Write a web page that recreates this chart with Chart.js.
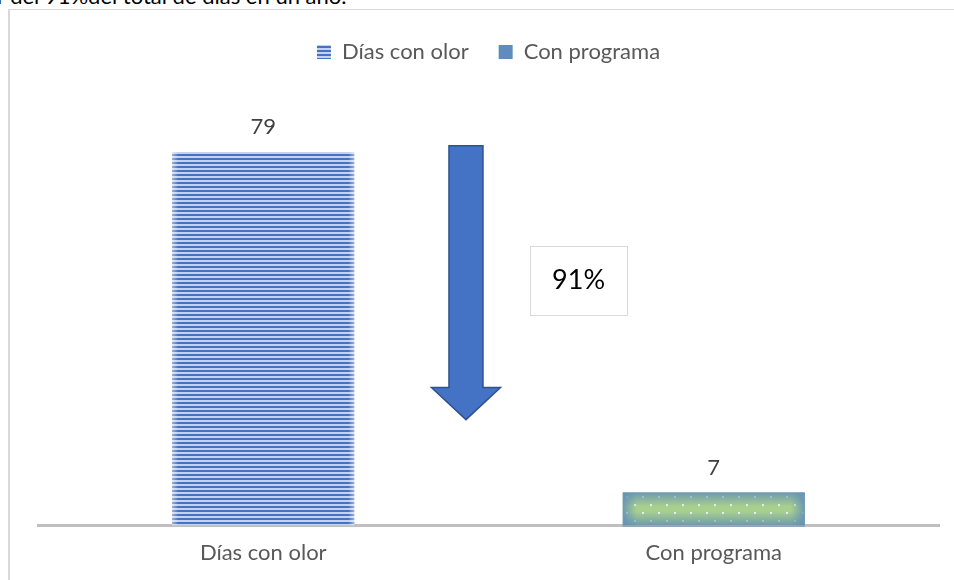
<!DOCTYPE html>
<html>
<head>
<meta charset="utf-8">
<script src="https://cdn.jsdelivr.net/npm/chart.js@4"></script>
<style>
  html, body { margin: 0; padding: 0; background: #fff; width: 954px; height: 580px; overflow: hidden; position: relative; font-family: Lato, sans-serif; }
  #lead { position: absolute; left: -3px; top: -15px; font-size: 22px; line-height: 22px; color: #000; white-space: nowrap; }
  #frame { position: absolute; left: 8px; top: 9px; right: 0; bottom: 0; border-left: 2px solid #d9d9d9; border-top: 1.5px solid #d9d9d9; }
  #wrap { position: absolute; left: 10px; top: 10px; width: 944px; height: 570px; }
</style>
</head>
<body>
<div id="lead">r del 91%del total de días en un año.</div>
<div id="frame"></div>
<div id="wrap"><canvas id="c" width="944" height="570"></canvas></div>
<script>
// Categories and series
const categories = ['Días con olor', 'Con programa'];
const seriesNames = ['Días con olor', 'Con programa'];
const diasConOlor = [79, null];
const conPrograma = [null, 7];
const reductionLabel = '91%';

// Reduction arrow and its caption, placed in axis units
const arrowSpan = { from: 80.3, headAt: 29.2, to: 22.4, at: 0.45 };
const captionAt = { value: 51.8, at: 0.70 };

const FONT = 'Lato, sans-serif';
const canvas = document.getElementById('c');
const ctx = canvas.getContext('2d');

function stripePattern() {
  const t = document.createElement('canvas');
  t.width = 4; t.height = 4;
  const g = t.getContext('2d');
  g.fillStyle = '#c4d2ed';
  g.fillRect(0, 0, 4, 4);
  g.fillStyle = '#4472c4';
  g.fillRect(0, 0, 4, 2);
  return ctx.createPattern(t, 'repeat');
}

function dotPattern() {
  const t = document.createElement('canvas');
  t.width = 16; t.height = 16;
  const g = t.getContext('2d');
  g.fillStyle = '#a8cf8e';
  g.fillRect(0, 0, 16, 16);
  g.fillStyle = '#f2f7fb';
  g.fillRect(8, 6, 2, 2);
  g.fillRect(0, 14, 2, 2);
  return ctx.createPattern(t, 'repeat');
}

const stripes = stripePattern();
const dots = dotPattern();

// Soft edge shading on each bar, and the blue outline on the dotted bar
const barFinish = {
  id: 'barFinish',
  afterDatasetDraw(chart, args) {
    const meta = args.meta;
    const c = chart.ctx;
    meta.data.forEach((el, i) => {
      const v = chart.data.datasets[args.index].data[i];
      if (v === null || v === undefined) return;
      const p = el.getProps(['x', 'y', 'width', 'base'], true);
      const L = p.x - p.width / 2, R = p.x + p.width / 2, T = p.y, B = p.base;
      c.save();
      c.beginPath(); c.rect(L, T, R - L, B - T); c.clip();
      if (args.index === 1) {
        const col = 'rgba(98,144,182,';
        const d = 14;
        const a0 = '0.85)';
        let g = c.createLinearGradient(L, 0, L + d, 0);
        g.addColorStop(0, col + a0); g.addColorStop(1, col + '0)');
        c.fillStyle = g; c.fillRect(L, T, d, B - T);
        g = c.createLinearGradient(R, 0, R - d, 0);
        g.addColorStop(0, col + a0); g.addColorStop(1, col + '0)');
        c.fillStyle = g; c.fillRect(R - d, T, d, B - T);
        g = c.createLinearGradient(0, T, 0, T + d);
        g.addColorStop(0, col + a0); g.addColorStop(1, col + '0)');
        c.fillStyle = g; c.fillRect(L, T, R - L, d);
        g = c.createLinearGradient(0, B, 0, B - d);
        g.addColorStop(0, col + a0); g.addColorStop(1, col + '0)');
        c.fillStyle = g; c.fillRect(L, B - d, R - L, d);
        c.restore();
        c.save();
        c.strokeStyle = '#7097ba';
        c.lineWidth = 1;
        c.strokeRect(L + 0.5, T + 0.5, R - L - 1, B - T);
      } else {
        const d = 6;
        let g = c.createLinearGradient(L, 0, L + d, 0);
        g.addColorStop(0, 'rgba(255,255,255,0.45)'); g.addColorStop(1, 'rgba(255,255,255,0)');
        c.fillStyle = g; c.fillRect(L, T, d, B - T);
        g = c.createLinearGradient(R, 0, R - d, 0);
        g.addColorStop(0, 'rgba(255,255,255,0.45)'); g.addColorStop(1, 'rgba(255,255,255,0)');
        c.fillStyle = g; c.fillRect(R - d, T, d, B - T);
      }
      c.restore();
    });
  }
};

// Value labels above the bars
const valueLabels = {
  id: 'valueLabels',
  afterDatasetsDraw(chart) {
    const c = chart.ctx;
    c.save();
    c.font = '22px ' + FONT;
    c.fillStyle = '#404040';
    c.textAlign = 'center';
    c.textBaseline = 'middle';
    chart.data.datasets.forEach((ds, di) => {
      chart.getDatasetMeta(di).data.forEach((el, i) => {
        const v = ds.data[i];
        if (v === null || v === undefined) return;
        c.fillText(String(v), el.x, el.y - 25);
      });
    });
    c.restore();
  }
};

// Downward arrow with the percentage caption
const reductionArrow = {
  id: 'reductionArrow',
  afterDraw(chart) {
    const xs = chart.scales.x, ys = chart.scales.y, c = chart.ctx;
    const cx = xs.getPixelForValue(arrowSpan.at);
    const y0 = ys.getPixelForValue(arrowSpan.from);
    const yh = ys.getPixelForValue(arrowSpan.headAt);
    const y1 = ys.getPixelForValue(arrowSpan.to);
    const sw = 17, hw = 34.5;
    c.save();
    c.beginPath();
    c.moveTo(cx - sw, y0);
    c.lineTo(cx + sw, y0);
    c.lineTo(cx + sw, yh);
    c.lineTo(cx + hw, yh);
    c.lineTo(cx, y1);
    c.lineTo(cx - hw, yh);
    c.lineTo(cx - sw, yh);
    c.closePath();
    c.fillStyle = '#4472c4';
    c.fill();
    c.lineWidth = 1.5;
    c.strokeStyle = '#2f528f';
    c.stroke();

    const bx = xs.getPixelForValue(captionAt.at);
    const by = ys.getPixelForValue(captionAt.value);
    const bw = 97, bh = 69;
    c.fillStyle = '#ffffff';
    c.fillRect(bx - bw / 2, by - bh / 2, bw, bh);
    c.strokeStyle = '#d9d9d9';
    c.lineWidth = 1;
    c.strokeRect(Math.round(bx - bw / 2) + 0.5, Math.round(by - bh / 2) + 0.5, bw, bh);
    c.fillStyle = '#000000';
    c.font = '27px ' + FONT;
    c.textAlign = 'center';
    c.textBaseline = 'middle';
    c.fillText(reductionLabel, bx, by);
    c.restore();
  }
};

// Fixed legend band height so the plot starts below it
const legendBand = {
  id: 'legendBand',
  beforeLayout(chart) {
    const lg = chart.legend;
    if (lg && !lg._bandPatched) {
      const fit = lg.fit;
      lg.fit = function () { fit.call(this); this.height = 89; };
      lg._bandPatched = true;
    }
  }
};

new Chart(canvas, {
  type: 'bar',
  data: {
    labels: categories,
    datasets: [
      {
        label: seriesNames[0],
        data: diasConOlor,
        backgroundColor: stripes,
        borderWidth: 0,
        skipNull: true
      },
      {
        label: seriesNames[1],
        data: conPrograma,
        backgroundColor: dots,
        borderWidth: 0,
        skipNull: true
      }
    ]
  },
  options: {
    responsive: false,
    animation: false,
    devicePixelRatio: 1,
    layout: { padding: { top: 1, left: 28, right: 15, bottom: 0 } },
    datasets: { bar: { categoryPercentage: 1, barPercentage: 0.404 } },
    scales: {
      x: {
        grid: { display: false, drawTicks: false },
        border: { display: true, color: '#bfbfbf', width: 3 },
        ticks: { color: '#595959', font: { family: FONT, size: 22 }, padding: 14 }
      },
      y: { display: false, min: 0, max: 90 }
    },
    plugins: {
      tooltip: { enabled: false },
      legend: {
        position: 'top',
        labels: {
          color: '#595959',
          font: { family: FONT, size: 22 },
          boxWidth: 14,
          boxHeight: 14,
          padding: 30,
          generateLabels(chart) {
            return chart.data.datasets.map((ds, i) => ({
              text: ds.label,
              fillStyle: i === 0 ? stripes : '#5e8cbc',
              strokeStyle: i === 0 ? '#4472c4' : '#5e8cbc',
              lineWidth: 0,
              hidden: false,
              datasetIndex: i,
              fontColor: '#595959'
            }));
          }
        }
      }
    }
  },
  plugins: [legendBand, barFinish, valueLabels, reductionArrow]
});
</script>
</body>
</html>
